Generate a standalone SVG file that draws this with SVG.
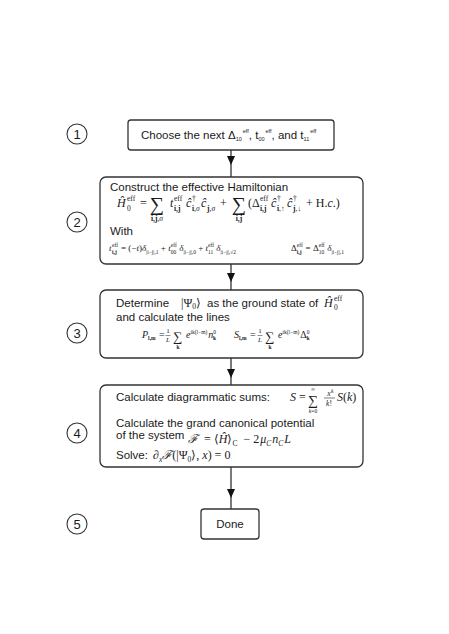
<svg xmlns="http://www.w3.org/2000/svg" width="449" height="634" viewBox="0 0 449 634">
<style>
.box{fill:#fff;stroke:#333;stroke-width:1.3}
.num{fill:#fff;stroke:#333;stroke-width:1.1}
.t{font-family:"Liberation Sans",Arial,sans-serif;font-size:11.5px;fill:#1a1a1a}
.n{font-family:"Liberation Sans",Arial,sans-serif;font-size:13px;fill:#1a1a1a;text-anchor:middle}
.m{font-family:"Liberation Serif","Times New Roman",serif;font-size:12px;fill:#1a1a1a}
.i{font-style:italic}
.s{font-size:7.5px}
.xs{font-size:5.5px}
.b{font-weight:bold}
.c{text-anchor:middle}
.con{stroke:#333;stroke-width:1.3;fill:none;marker-mid:url(#ah)}
</style>
<defs>
<marker id="ah" viewBox="0 0 9 8" refX="9" refY="4" markerWidth="9" markerHeight="8" markerUnits="userSpaceOnUse" orient="auto">
<path d="M0,0 L9,4 L0,8 z" fill="#111"/>
</marker>
</defs>
<rect width="449" height="634" fill="#fff"/>

<g id="connectors">
<path class="con" d="M231,150 L231,165 L231,177"/>
<path class="con" d="M231,264 L231,282 L231,290"/>
<path class="con" d="M231,358 L231,378 L231,385"/>
<path class="con" d="M231,467 L231,498 L231,509"/>
</g>

<g id="step1">
<circle class="num" cx="77" cy="134" r="10"/>
<text class="n" x="77" y="139">1</text>
<rect class="box" x="128" y="120" width="206" height="30" rx="3"/>
<text class="t" x="141" y="139">Choose the next Δ<tspan class="xs" y="141">10</tspan><tspan class="xs" dx="1" y="133">eff</tspan><tspan y="139">, t</tspan><tspan class="xs" y="141">00</tspan><tspan class="xs" dx="1" y="133">eff</tspan><tspan y="139">, and t</tspan><tspan class="xs" y="141">11</tspan><tspan class="xs" dx="1" y="133">eff</tspan></text>
</g>

<g id="step2">
<circle class="num" cx="77" cy="222" r="10"/>
<text class="n" x="77" y="227">2</text>
<rect class="box" x="100" y="177" width="263" height="87" rx="6"/>
<text class="t" x="110" y="191">Construct the effective Hamiltonian</text>
<text class="m" y="207"><tspan class="i" x="117">Ĥ</tspan><tspan class="s" x="127" y="201">eff</tspan><tspan class="s" x="127" y="211">0</tspan><tspan x="140" y="207">=</tspan></text>
<text class="m c" x="157" y="211" style="font-size:20px">∑</text>
<text class="m s b c" x="157" y="221">i,j<tspan style="font-weight:normal" class="i">,σ</tspan></text>
<text class="m" y="207"><tspan class="i" x="170">t</tspan><tspan class="s" x="174" y="201">eff</tspan><tspan class="s b" x="174" y="211">i,j</tspan><tspan class="i" x="186" y="207">ĉ</tspan><tspan class="s" x="192" y="201">†</tspan><tspan class="s b" x="192" y="211">i</tspan><tspan class="s i" y="211">,σ</tspan><tspan class="i" x="201" y="207">ĉ</tspan><tspan class="s b" x="207" y="211">j</tspan><tspan class="s i" y="211">,σ</tspan><tspan x="220" y="207">+</tspan></text>
<text class="m c" x="239" y="211" style="font-size:20px">∑</text>
<text class="m s b c" x="239" y="221">i,j</text>
<text class="m" y="207"><tspan x="248">(Δ</tspan><tspan class="s" x="260" y="201">eff</tspan><tspan class="s b" x="260" y="211">i,j</tspan><tspan class="i" x="271" y="207">ĉ</tspan><tspan class="s" x="277" y="201">†</tspan><tspan class="s b" x="277" y="211">i</tspan><tspan class="s" y="211">,↑</tspan><tspan class="i" x="287" y="207">ĉ</tspan><tspan class="s" x="293" y="201">†</tspan><tspan class="s b" x="293" y="211">j</tspan><tspan class="s" y="211">,↓</tspan><tspan x="306" y="207">+ H.</tspan><tspan class="i">c</tspan><tspan>.)</tspan></text>
<text class="t" x="110" y="235">With</text>
<text class="m" style="font-size:9px" y="251"><tspan class="i" x="109">t</tspan><tspan class="xs" x="112" y="247">eff</tspan><tspan class="xs b" x="112" y="254">i,j</tspan><tspan x="121" y="251">= (−</tspan><tspan class="i">t</tspan><tspan>)</tspan><tspan class="i">δ</tspan><tspan class="xs" y="254">|i−j|,1</tspan><tspan y="251"> + </tspan><tspan class="i">t</tspan><tspan class="xs" y="247">eff</tspan><tspan class="xs" dx="-6" y="254">00</tspan><tspan class="i" y="251" dx="3">δ</tspan><tspan class="xs" y="254">|i−j|,0</tspan><tspan y="251"> + </tspan><tspan class="i">t</tspan><tspan class="xs" y="247">eff</tspan><tspan class="xs" dx="-6" y="254">11</tspan><tspan class="i" y="251" dx="3">δ</tspan><tspan class="xs" y="254">|i−j|,√2</tspan></text>
<text class="m" style="font-size:9px" y="251"><tspan x="291">Δ</tspan><tspan class="xs" y="247">eff</tspan><tspan class="xs b" dx="-6" y="254">i,j</tspan><tspan y="251" dx="4">= Δ</tspan><tspan class="xs" y="247">eff</tspan><tspan class="xs" dx="-6" y="254">10</tspan><tspan class="i" y="251" dx="3">δ</tspan><tspan class="xs" y="254">|i−j|,1</tspan></text>
</g>

<g id="step3">
<circle class="num" cx="77" cy="333" r="10"/>
<text class="n" x="77" y="338">3</text>
<rect class="box" x="100" y="290" width="263" height="68" rx="6"/>
<text class="t" x="116" y="307">Determine</text>
<text class="m" x="181" y="307">|Ψ<tspan class="s" y="309">0</tspan><tspan y="307">⟩</tspan></text>
<text class="t" x="207" y="307">as the ground state of</text>
<text class="m" y="307"><tspan class="i" x="324">Ĥ</tspan><tspan class="s" x="334" y="301">eff</tspan><tspan class="s" x="334" y="310">0</tspan></text>
<text class="t" x="116" y="321">and calculate the lines</text>
<text class="m" style="font-size:10px" y="338"><tspan class="i" x="142">P</tspan><tspan class="xs b" y="340">l,m</tspan><tspan y="338" dx="1"> = </tspan></text>
<text class="m c" style="font-size:7px" x="168" y="333">1</text>
<line x1="165.5" y1="335.5" x2="170.5" y2="335.5" stroke="#222" stroke-width="0.5"/>
<text class="m i c" style="font-size:7px" x="168" y="342">L</text>
<text class="m c" x="178" y="341" style="font-size:13px">∑</text>
<text class="m xs b c" x="178" y="349">k</text>
<text class="m" style="font-size:10px" y="338"><tspan class="i" x="186">e</tspan><tspan class="xs" y="334">ik(l−m)</tspan><tspan class="i" y="338" dx="1">n</tspan><tspan class="xs" y="334">0</tspan><tspan class="xs b" dx="-3" y="340">k</tspan></text>
<text class="m" style="font-size:10px" y="338"><tspan class="i" x="234">S</tspan><tspan class="xs b" y="340">l,m</tspan><tspan y="338" dx="1"> = </tspan></text>
<text class="m c" style="font-size:7px" x="260" y="333">1</text>
<line x1="257.5" y1="335.5" x2="262.5" y2="335.5" stroke="#222" stroke-width="0.5"/>
<text class="m i c" style="font-size:7px" x="260" y="342">L</text>
<text class="m c" x="270" y="341" style="font-size:13px">∑</text>
<text class="m xs b c" x="270" y="349">k</text>
<text class="m" style="font-size:10px" y="338"><tspan class="i" x="278">e</tspan><tspan class="xs" y="334">ik(l−m)</tspan><tspan y="338" dx="1">Δ</tspan><tspan class="xs" y="334">0</tspan><tspan class="xs b" dx="-3" y="340">k</tspan></text>
</g>

<g id="step4">
<circle class="num" cx="77" cy="433" r="10"/>
<text class="n" x="77" y="438">4</text>
<rect class="box" x="100" y="385" width="263" height="82" rx="6"/>
<text class="t" x="116" y="401">Calculate diagrammatic sums:</text>
<text class="m" y="401"><tspan class="i" x="290">S</tspan><tspan> =</tspan></text>
<text class="m c" x="313" y="405" style="font-size:14px">∑</text>
<text class="m xs c" x="313" y="391">∞</text>
<text class="m xs c" x="313" y="413"><tspan class="i">k</tspan>=0</text>
<text class="m s i c" x="329" y="396">x<tspan class="xs" y="393">k</tspan></text>
<line x1="324" y1="398" x2="335" y2="398" stroke="#222" stroke-width="0.6"/>
<text class="m s c" x="329" y="406"><tspan class="i">k</tspan>!</text>
<text class="m" x="337" y="401"><tspan class="i">S</tspan>(<tspan class="i">k</tspan>)</text>
<text class="t" x="116" y="427">Calculate the grand canonical potential</text>
<text class="t" x="116" y="439">of the system</text>
<text class="m" y="443"><tspan class="i" x="188">ℱ</tspan><tspan dx="3"> = ⟨</tspan><tspan class="i">Ĥ</tspan><tspan>⟩</tspan><tspan class="s" y="446">C</tspan><tspan y="443" dx="3"> − 2</tspan><tspan class="i" dx="1">μ</tspan><tspan class="s i" y="446">C</tspan><tspan class="i" y="443" dx="1">n</tspan><tspan class="s i" y="446">C</tspan><tspan class="i" y="443" dx="1">L</tspan></text>
<text class="t" x="116" y="459">Solve:</text>
<text class="m" y="459"><tspan x="153">∂</tspan><tspan class="s i" y="462">x</tspan><tspan class="i" y="459">ℱ</tspan><tspan>(|Ψ</tspan><tspan class="s" y="462">0</tspan><tspan y="459">⟩, </tspan><tspan class="i">x</tspan><tspan>) = 0</tspan></text>
</g>

<g id="step5">
<circle class="num" cx="77" cy="524" r="10"/>
<text class="n" x="77" y="529">5</text>
<rect class="box" x="201" y="509" width="58" height="30" rx="3"/>
<text class="t" x="230" y="528" text-anchor="middle">Done</text>
</g>
</svg>
